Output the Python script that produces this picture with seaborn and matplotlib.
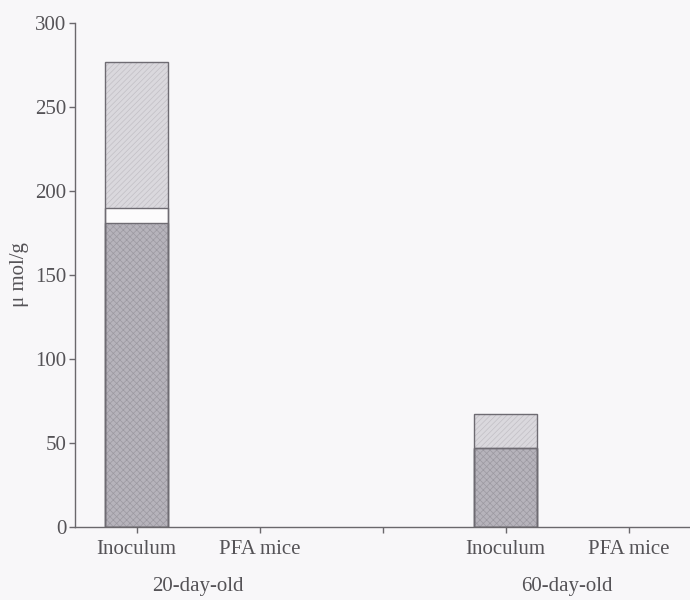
import matplotlib
matplotlib.use("Agg")
import matplotlib.pyplot as plt
import seaborn as sns
import pandas as pd
import numpy as np

# Data (µmol/g), stacked from bottom to top
slots = ["20 Inoculum", "20 PFA", "gap", "60 Inoculum", "60 PFA"]
tick_labels = ["Inoculum", "PFA mice", "", "Inoculum", "PFA mice"]
group_labels = ["20-day-old", "60-day-old"]
bar_slots = ["20 Inoculum", "60 Inoculum"]
bottom_part = [181, 47]
middle_part = [9, 0]
top_part = [87, 20]

sns.set_theme(style="white")
plt.rcParams["font.family"] = ["Liberation Serif", "DejaVu Serif"]
plt.rcParams["hatch.linewidth"] = 0.5

bg = "#f8f7f9"
axis_col = "#6a686c"
text_col = "#555357"

fig = plt.figure(figsize=(6.9, 6.0), dpi=100, facecolor=bg)
ax = fig.add_axes([75 / 690, 1 - 527 / 600, 615 / 690, 504 / 600])
ax.set_facecolor(bg)

df = pd.DataFrame({
    "slot": bar_slots,
    "bottom": bottom_part,
    "middle": middle_part,
    "top": top_part,
})
df["lvl1"] = df["bottom"]
df["lvl2"] = df["bottom"] + df["middle"]
df["lvl3"] = df["lvl2"] + df["top"]

# Draw cumulative levels from tallest to shortest so each segment shows its own fill
layers = [
    ("lvl3", "#dad8dd", "#c2bfc5", "//////"),
    ("lvl2", "#fcfbfc", "#fcfbfc", None),
    ("lvl1", "#b6b3bb", "#9c99a1", "xxxxx"),
]
for col, face, hcol, hatch in layers:
    sns.barplot(data=df, x="slot", y=col, order=slots, ax=ax, width=0.51,
                color=face, saturation=1, linewidth=0, edgecolor=hcol,
                hatch=hatch, errorbar=None)
# Outlines of every segment
for col, *_ in layers:
    sns.barplot(data=df, x="slot", y=col, order=slots, ax=ax, width=0.51,
                fill=False, linewidth=1.0, edgecolor="#6e6b72", errorbar=None)

ax.set_xlim(-0.5, 4.5)
ax.set_ylim(0, 300)
ax.set_yticks(np.arange(0, 301, 50))
ax.set_xticks(range(len(slots)))
ax.set_xticklabels(tick_labels)
ax.set_xlabel("")
ax.set_ylabel("μ mol/g", color=text_col, fontsize=15, labelpad=4,
              family=["Liberation Serif", "DejaVu Serif"])

for s in ["top", "right"]:
    ax.spines[s].set_visible(False)
for s in ["left", "bottom"]:
    ax.spines[s].set_color(axis_col)
    ax.spines[s].set_linewidth(1.0)

ax.tick_params(axis="both", which="both", direction="out", length=4.3, width=1.0,
               color=axis_col, labelcolor=text_col, labelsize=15)
ax.tick_params(axis="y", pad=2)
ax.tick_params(axis="x", pad=5, bottom=True, left=True)
ax.yaxis.set_ticks_position("left")
ax.xaxis.set_ticks_position("bottom")

for xpos, lab in zip([0.5, 3.5], group_labels):
    ax.text(xpos, -0.119, lab, transform=ax.get_xaxis_transform(),
            ha="center", va="center", fontsize=15, color=text_col)

fig.savefig("out.png", dpi=100, facecolor=bg)
